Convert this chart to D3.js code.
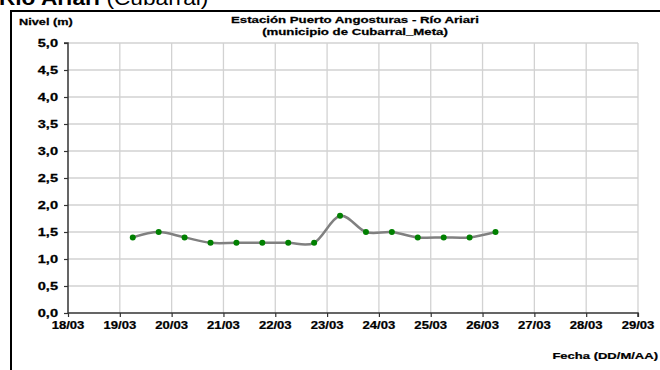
<!DOCTYPE html>
<html>
<head>
<meta charset="utf-8">
<script src="https://cdn.jsdelivr.net/npm/d3@7"></script>
<style>
  html, body { margin: 0; padding: 0; background: #fff; }
  svg { display: block; }
  text { font-family: "Liberation Sans", Arial, sans-serif; }
</style>
</head>
<body>
<svg id="chart" width="660" height="370"></svg>
<script>
// ---- data ----
const times = ["19/03 06", "19/03 18", "20/03 06", "20/03 18", "21/03 06", "21/03 18",
               "22/03 06", "22/03 18", "23/03 06", "23/03 18", "24/03 06", "24/03 18",
               "25/03 06", "25/03 18", "26/03 06"];
const nivel = [1.4, 1.5, 1.4, 1.3, 1.3, 1.3, 1.3, 1.3, 1.8, 1.5, 1.5, 1.4, 1.4, 1.4, 1.5];
const xTickLabels = ["18/03", "19/03", "20/03", "21/03", "22/03", "23/03", "24/03",
                     "25/03", "26/03", "27/03", "28/03", "29/03"];
const yTicks = [0, 0.5, 1, 1.5, 2, 2.5, 3, 3.5, 4, 4.5, 5];
const titleLines = ["Estación Puerto Angosturas - Río Ariari", "(municipio de Cubarral_Meta)"];
const yLabel = "Nivel (m)";
const xLabel = "Fecha (DD/M/AA)";

// ---- setup ----
const svg = d3.select("#chart");
const parseT = d3.timeParse("%d/%m/%Y %H");
const parseD = d3.timeParse("%d/%m/%Y");
const year = "2012";
const pts = times.map((t, i) => {
  const [d, h] = t.split(" ");
  return { date: parseT(d + "/" + year + " " + h), v: nivel[i] };
});
const tickDates = xTickLabels.map(s => parseD(s + "/" + year));

const x = d3.scaleTime().domain([tickDates[0], tickDates[tickDates.length - 1]]).range([68, 638]);
const y = d3.scaleLinear().domain([0, 5]).range([313, 43]);

const SX = 1.26;
function stretchedText(g, tx, ty, str, opts) {
  const t = g.append("text")
    .attr("transform", `translate(${tx},${ty}) scale(${opts.sx || SX},1)`)
    .attr("text-anchor", opts.anchor || "start")
    .attr("font-size", opts.size || 10.4)
    .attr("font-weight", opts.weight || "bold")
    .attr("fill", "#000")
    .attr("stroke", "#000").attr("stroke-width", 0.25)
    .text(str);
  return t;
}

// top cropped heading
const head = svg.append("text")
  .attr("x", -1).attr("y", 5)
  .attr("font-size", 21)
  .attr("transform", "scale(1.08,1)");
head.append("tspan").attr("font-weight", "bold").text("Río Ariari ");
head.append("tspan").attr("font-weight", "normal").text("(Cubarral)");

// frame
svg.append("rect")
  .attr("x", 11).attr("y", 11).attr("width", 700).attr("height", 400)
  .attr("fill", "none").attr("stroke", "#000").attr("stroke-width", 2);

// gridlines
const grid = svg.append("g");
grid.selectAll("line.h").data(yTicks.slice(1)).join("line")
  .attr("x1", x.range()[0]).attr("x2", x.range()[1])
  .attr("y1", d => y(d)).attr("y2", d => y(d))
  .attr("stroke", "#d2d2d2").attr("stroke-width", 1.3);
grid.selectAll("line.v").data(tickDates.slice(1)).join("line")
  .attr("x1", d => x(d)).attr("x2", d => x(d))
  .attr("y1", y(5)).attr("y2", y(0))
  .attr("stroke", "#d2d2d2").attr("stroke-width", 1.3);

// axes
const fmtY = d3.format(".1f");
const yAxis = d3.axisLeft(y).tickValues(yTicks).tickSize(4).tickFormat("");
const xAxis = d3.axisBottom(x).tickValues(tickDates).tickSize(4).tickFormat("");
const gy = svg.append("g").attr("transform", `translate(${x.range()[0]},0)`).call(yAxis);
const gx = svg.append("g").attr("transform", `translate(0,${y(0)})`).call(xAxis);
[gy, gx].forEach(g => {
  g.select(".domain").attr("stroke", "#333").attr("stroke-width", 1.5);
  g.selectAll(".tick line").attr("stroke", "#333").attr("stroke-width", 1.2);
});
gy.select(".domain").attr("d", `M-4,${y(5)}H0V${y(0)}`);
gx.select(".domain").attr("d", `M0,0H${x.range()[1] - x.range()[0]}V4`).attr("transform", `translate(${x.range()[0]},0)`);

const labels = svg.append("g");
yTicks.forEach(v => {
  stretchedText(labels, 58, y(v) + 3.7, fmtY(v).replace(".", ","), { anchor: "end", sx: 1.4 });
});
tickDates.forEach((d, i) => {
  stretchedText(labels, x(d), 329, xTickLabels[i], { anchor: "middle" });
});

// titles
stretchedText(svg, 355, 23, titleLines[0], { anchor: "middle", size: 9.8, sx: 1.35 });
stretchedText(svg, 355, 35, titleLines[1], { anchor: "middle", size: 9.8, sx: 1.35 });
stretchedText(svg, 19, 25, yLabel, { size: 9.8, sx: 1.3 });
stretchedText(svg, 658, 359, xLabel, { anchor: "end", size: 9.8, sx: 1.33 });

// series
const line = d3.line().x(d => x(d.date)).y(d => y(d.v)).curve(d3.curveCatmullRom.alpha(0));
svg.append("path").datum(pts)
  .attr("d", line).attr("fill", "none")
  .attr("stroke", "#808080").attr("stroke-width", 2.5);
svg.append("g").selectAll("circle").data(pts).join("circle")
  .attr("cx", d => x(d.date)).attr("cy", d => y(d.v)).attr("r", 3)
  .attr("fill", "#008000");
</script>
</body>
</html>
